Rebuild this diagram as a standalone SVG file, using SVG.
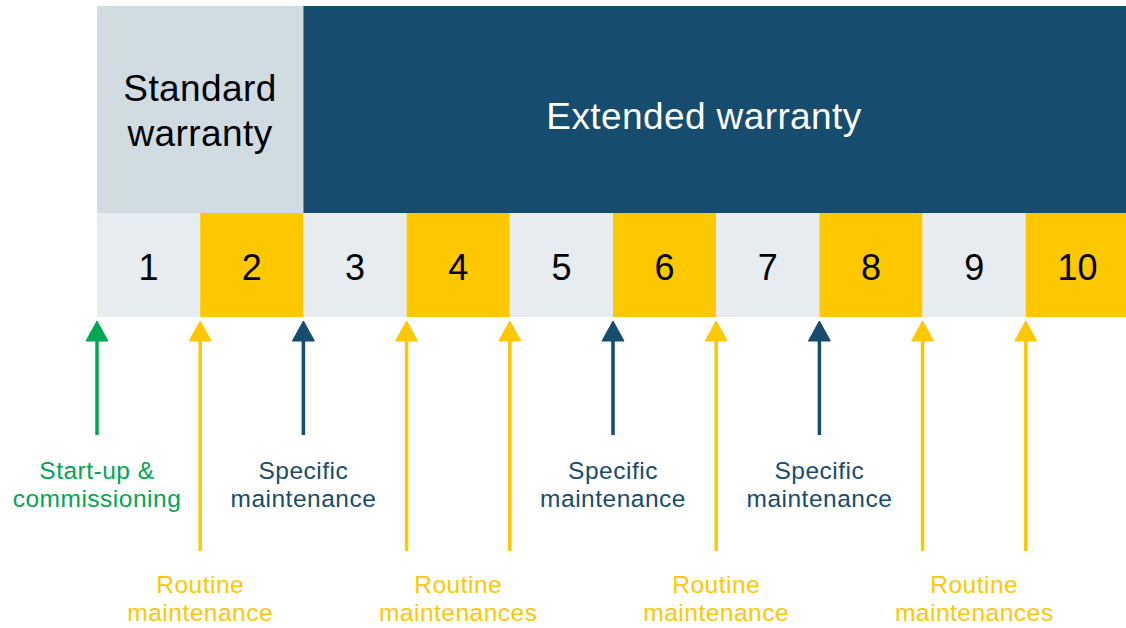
<svg xmlns="http://www.w3.org/2000/svg" width="1126" height="628" viewBox="0 0 1126 628">
<style>
text{font-family:"Liberation Sans",Arial,sans-serif;text-anchor:middle}
.big{font-size:37px;fill:#000;letter-spacing:0.4px}
.num{font-size:36px;fill:#000}
.lbl{font-size:24.5px;letter-spacing:0.5px}
.cl{fill:#e6ecf0}
.cy{fill:#fdc800}
.g{stroke:#00a651;fill:#00a651}
.y{stroke:#fdc800;fill:#fdc800}
.b{stroke:#164c6d;fill:#164c6d}
.ln{stroke-width:3.5;fill:none}
</style>
<g id="standard">
<rect x="97" y="6" width="206.4" height="207" fill="#d0dbe2"/>
<text class="big" x="200" y="101">Standard</text>
<text class="big" x="200" y="146">warranty</text>
</g>
<g id="extended">
<rect x="303.4" y="6" width="822.6" height="207" fill="#164c6d"/>
<text class="big" x="704" y="129" style="fill:#fff">Extended warranty</text>
</g>
<g id="years">
<rect class="cl" x="97" y="213" width="103.2" height="104"/>
<rect class="cy" x="200.2" y="213" width="103.2" height="104"/>
<rect class="cl" x="303.4" y="213" width="103.2" height="104"/>
<rect class="cy" x="406.6" y="213" width="103.2" height="104"/>
<rect class="cl" x="509.8" y="213" width="103.2" height="104"/>
<rect class="cy" x="613" y="213" width="103.2" height="104"/>
<rect class="cl" x="716.2" y="213" width="103.2" height="104"/>
<rect class="cy" x="819.4" y="213" width="103.2" height="104"/>
<rect class="cl" x="922.6" y="213" width="103.2" height="104"/>
<rect class="cy" x="1025.8" y="213" width="100.2" height="104"/>
<text class="num" x="148.6" y="280">1</text>
<text class="num" x="251.8" y="280">2</text>
<text class="num" x="355" y="280">3</text>
<text class="num" x="458.2" y="280">4</text>
<text class="num" x="561.4" y="280">5</text>
<text class="num" x="664.6" y="280">6</text>
<text class="num" x="767.8" y="280">7</text>
<text class="num" x="871" y="280">8</text>
<text class="num" x="974.2" y="280">9</text>
<text class="num" x="1077.5" y="280">10</text>
</g>
<g id="connectors">
<line class="ln g" x1="97" y1="338" x2="97" y2="435"/>
<polygon class="g" stroke="none" points="97,321 86,341 108,341"/>
<line class="ln y" x1="200.2" y1="338" x2="200.2" y2="551"/>
<polygon class="y" stroke="none" points="200.2,321 189.2,341 211.2,341"/>
<line class="ln b" x1="303.4" y1="338" x2="303.4" y2="435"/>
<polygon class="b" stroke="none" points="303.4,321 292.4,341 314.4,341"/>
<line class="ln y" x1="406.6" y1="338" x2="406.6" y2="551"/>
<polygon class="y" stroke="none" points="406.6,321 395.6,341 417.6,341"/>
<line class="ln y" x1="509.8" y1="338" x2="509.8" y2="551"/>
<polygon class="y" stroke="none" points="509.8,321 498.8,341 520.8,341"/>
<line class="ln b" x1="613" y1="338" x2="613" y2="435"/>
<polygon class="b" stroke="none" points="613,321 602,341 624,341"/>
<line class="ln y" x1="716.2" y1="338" x2="716.2" y2="551"/>
<polygon class="y" stroke="none" points="716.2,321 705.2,341 727.2,341"/>
<line class="ln b" x1="819.4" y1="338" x2="819.4" y2="435"/>
<polygon class="b" stroke="none" points="819.4,321 808.4,341 830.4,341"/>
<line class="ln y" x1="922.6" y1="338" x2="922.6" y2="551"/>
<polygon class="y" stroke="none" points="922.6,321 911.6,341 933.6,341"/>
<line class="ln y" x1="1025.8" y1="338" x2="1025.8" y2="551"/>
<polygon class="y" stroke="none" points="1025.8,321 1014.8,341 1036.8,341"/>
</g>
<g id="label-startup" class="lbl" fill="#00a651">
<text x="97" y="479">Start-up &amp;</text>
<text x="97" y="507">commissioning</text>
</g>
<g id="label-specific-1" class="lbl" fill="#164c6d">
<text x="303.4" y="479">Specific</text>
<text x="303.4" y="507">maintenance</text>
</g>
<g id="label-specific-2" class="lbl" fill="#164c6d">
<text x="613" y="479">Specific</text>
<text x="613" y="507">maintenance</text>
</g>
<g id="label-specific-3" class="lbl" fill="#164c6d">
<text x="819.4" y="479">Specific</text>
<text x="819.4" y="507">maintenance</text>
</g>
<g id="label-routine-1" class="lbl" fill="#fdc800">
<text x="200.2" y="593">Routine</text>
<text x="200.2" y="621">maintenance</text>
</g>
<g id="label-routine-2" class="lbl" fill="#fdc800">
<text x="458.2" y="593">Routine</text>
<text x="458.2" y="621">maintenances</text>
</g>
<g id="label-routine-3" class="lbl" fill="#fdc800">
<text x="716.2" y="593">Routine</text>
<text x="716.2" y="621">maintenance</text>
</g>
<g id="label-routine-4" class="lbl" fill="#fdc800">
<text x="974.2" y="593">Routine</text>
<text x="974.2" y="621">maintenances</text>
</g>
</svg>
